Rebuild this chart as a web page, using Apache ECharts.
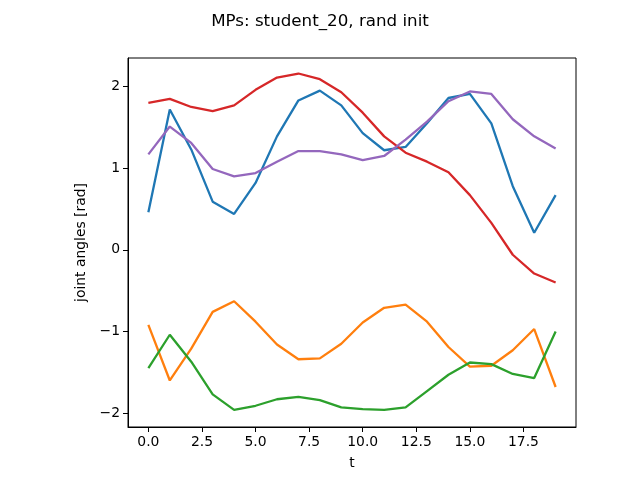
<!DOCTYPE html>
<html>
<head>
	<meta charset="utf-8">
	<title>MPs: student_20, rand init</title>
	<script src="https://cdn.jsdelivr.net/npm/echarts@6/dist/echarts.min.js"></script>
	<style>
		html, body { margin: 0; padding: 0; background: #fff; }
		#chart { width: 640px; height: 480px; }
	</style>
</head>
<body>
<div id="chart"></div>
<script type="text/javascript">
	// time steps
	var t = [0,1,2,3,4,5,6,7,8,9,10,11,12,13,14,15,16,17,18,19];

	// joint angles
	var joint0 = [0.46,1.72,1.23,0.59,0.44,0.82,1.39,1.83,1.95,1.77,1.43,1.22,1.26,1.55,1.86,1.91,1.55,0.78,0.21,0.67];
	var joint1 = [-0.92,-1.60,-1.21,-0.76,-0.63,-0.88,-1.16,-1.34,-1.33,-1.15,-0.89,-0.71,-0.67,-0.88,-1.19,-1.43,-1.42,-1.23,-0.97,-1.68];
	var joint2 = [-1.45,-1.04,-1.37,-1.77,-1.96,-1.91,-1.83,-1.80,-1.84,-1.93,-1.95,-1.96,-1.93,-1.73,-1.53,-1.38,-1.40,-1.52,-1.57,-1.00];
	var joint3 = [1.80,1.85,1.75,1.70,1.77,1.96,2.11,2.16,2.09,1.93,1.68,1.39,1.19,1.08,0.95,0.67,0.33,-0.06,-0.29,-0.40];
	var joint4 = [1.17,1.51,1.31,0.99,0.90,0.94,1.08,1.21,1.21,1.17,1.10,1.15,1.35,1.57,1.82,1.94,1.91,1.60,1.39,1.24];

	var xTicks = [0, 2.5, 5, 7.5, 10, 12.5, 15, 17.5];
	var yTicks = [-2, -1, 0, 1, 2];

	var joints = [joint0, joint1, joint2, joint3, joint4];
	var colors = ['#1f77b4', '#ff7f0e', '#2ca02c', '#d62728', '#9467bd'];

	function pairs(ys) {
		return t.map(function (x, i) { return [x, ys[i]]; });
	}

	var font = 'DejaVu Sans';
	var myChart = echarts.init(document.getElementById('chart'));
	var option = {
		animation: false,
		title: {
			text: 'MPs: student_20, rand init',
			left: 'center',
			top: 8,
			textStyle: { fontFamily: font, fontSize: 16.7, fontWeight: 'normal', color: '#000' }
		},
		grid: {
			left: 128, right: 64, top: 58, bottom: 53,
			show: true, borderColor: '#000', borderWidth: 1
		},
		xAxis: {
			type: 'value',
			min: -0.95, max: 19.95,
			name: 't',
			nameLocation: 'middle',
			nameGap: 29,
			nameTextStyle: { fontFamily: font, fontSize: 13.9, color: '#000' },
			axisLine: { show: true, onZero: false, lineStyle: { color: '#000', width: 1 } },
			axisTick: { show: true, length: 5, customValues: xTicks, lineStyle: { color: '#000' } },
			axisLabel: {
				customValues: xTicks, margin: 8,
				fontFamily: font, fontSize: 13.9, color: '#000',
				formatter: function (v) { return v.toFixed(1); }
			},
			splitLine: { show: false }
		},
		yAxis: {
			type: 'value',
			min: -2.17, max: 2.35,
			name: 'joint angles [rad]',
			nameLocation: 'middle',
			nameGap: 37,
			nameTextStyle: { fontFamily: font, fontSize: 13.9, color: '#000' },
			axisLine: { show: true, onZero: false, lineStyle: { color: '#000', width: 1 } },
			axisTick: { show: true, length: 5, customValues: yTicks, lineStyle: { color: '#000' } },
			axisLabel: {
				customValues: yTicks, margin: 8,
				fontFamily: font, fontSize: 13.9, color: '#000',
				formatter: function (v) { return v < 0 ? '\u2212' + Math.abs(v) : String(v); }
			},
			splitLine: { show: false }
		},
		series: joints.map(function (ys, i) {
			return {
				type: 'line',
				data: pairs(ys),
				showSymbol: false,
				symbol: 'none',
				z: 2 + i,
				lineStyle: { color: colors[i], width: 2.3 },
				itemStyle: { color: colors[i] }
			};
		})
	};
	myChart.setOption(option);
</script>
</body>
</html>
